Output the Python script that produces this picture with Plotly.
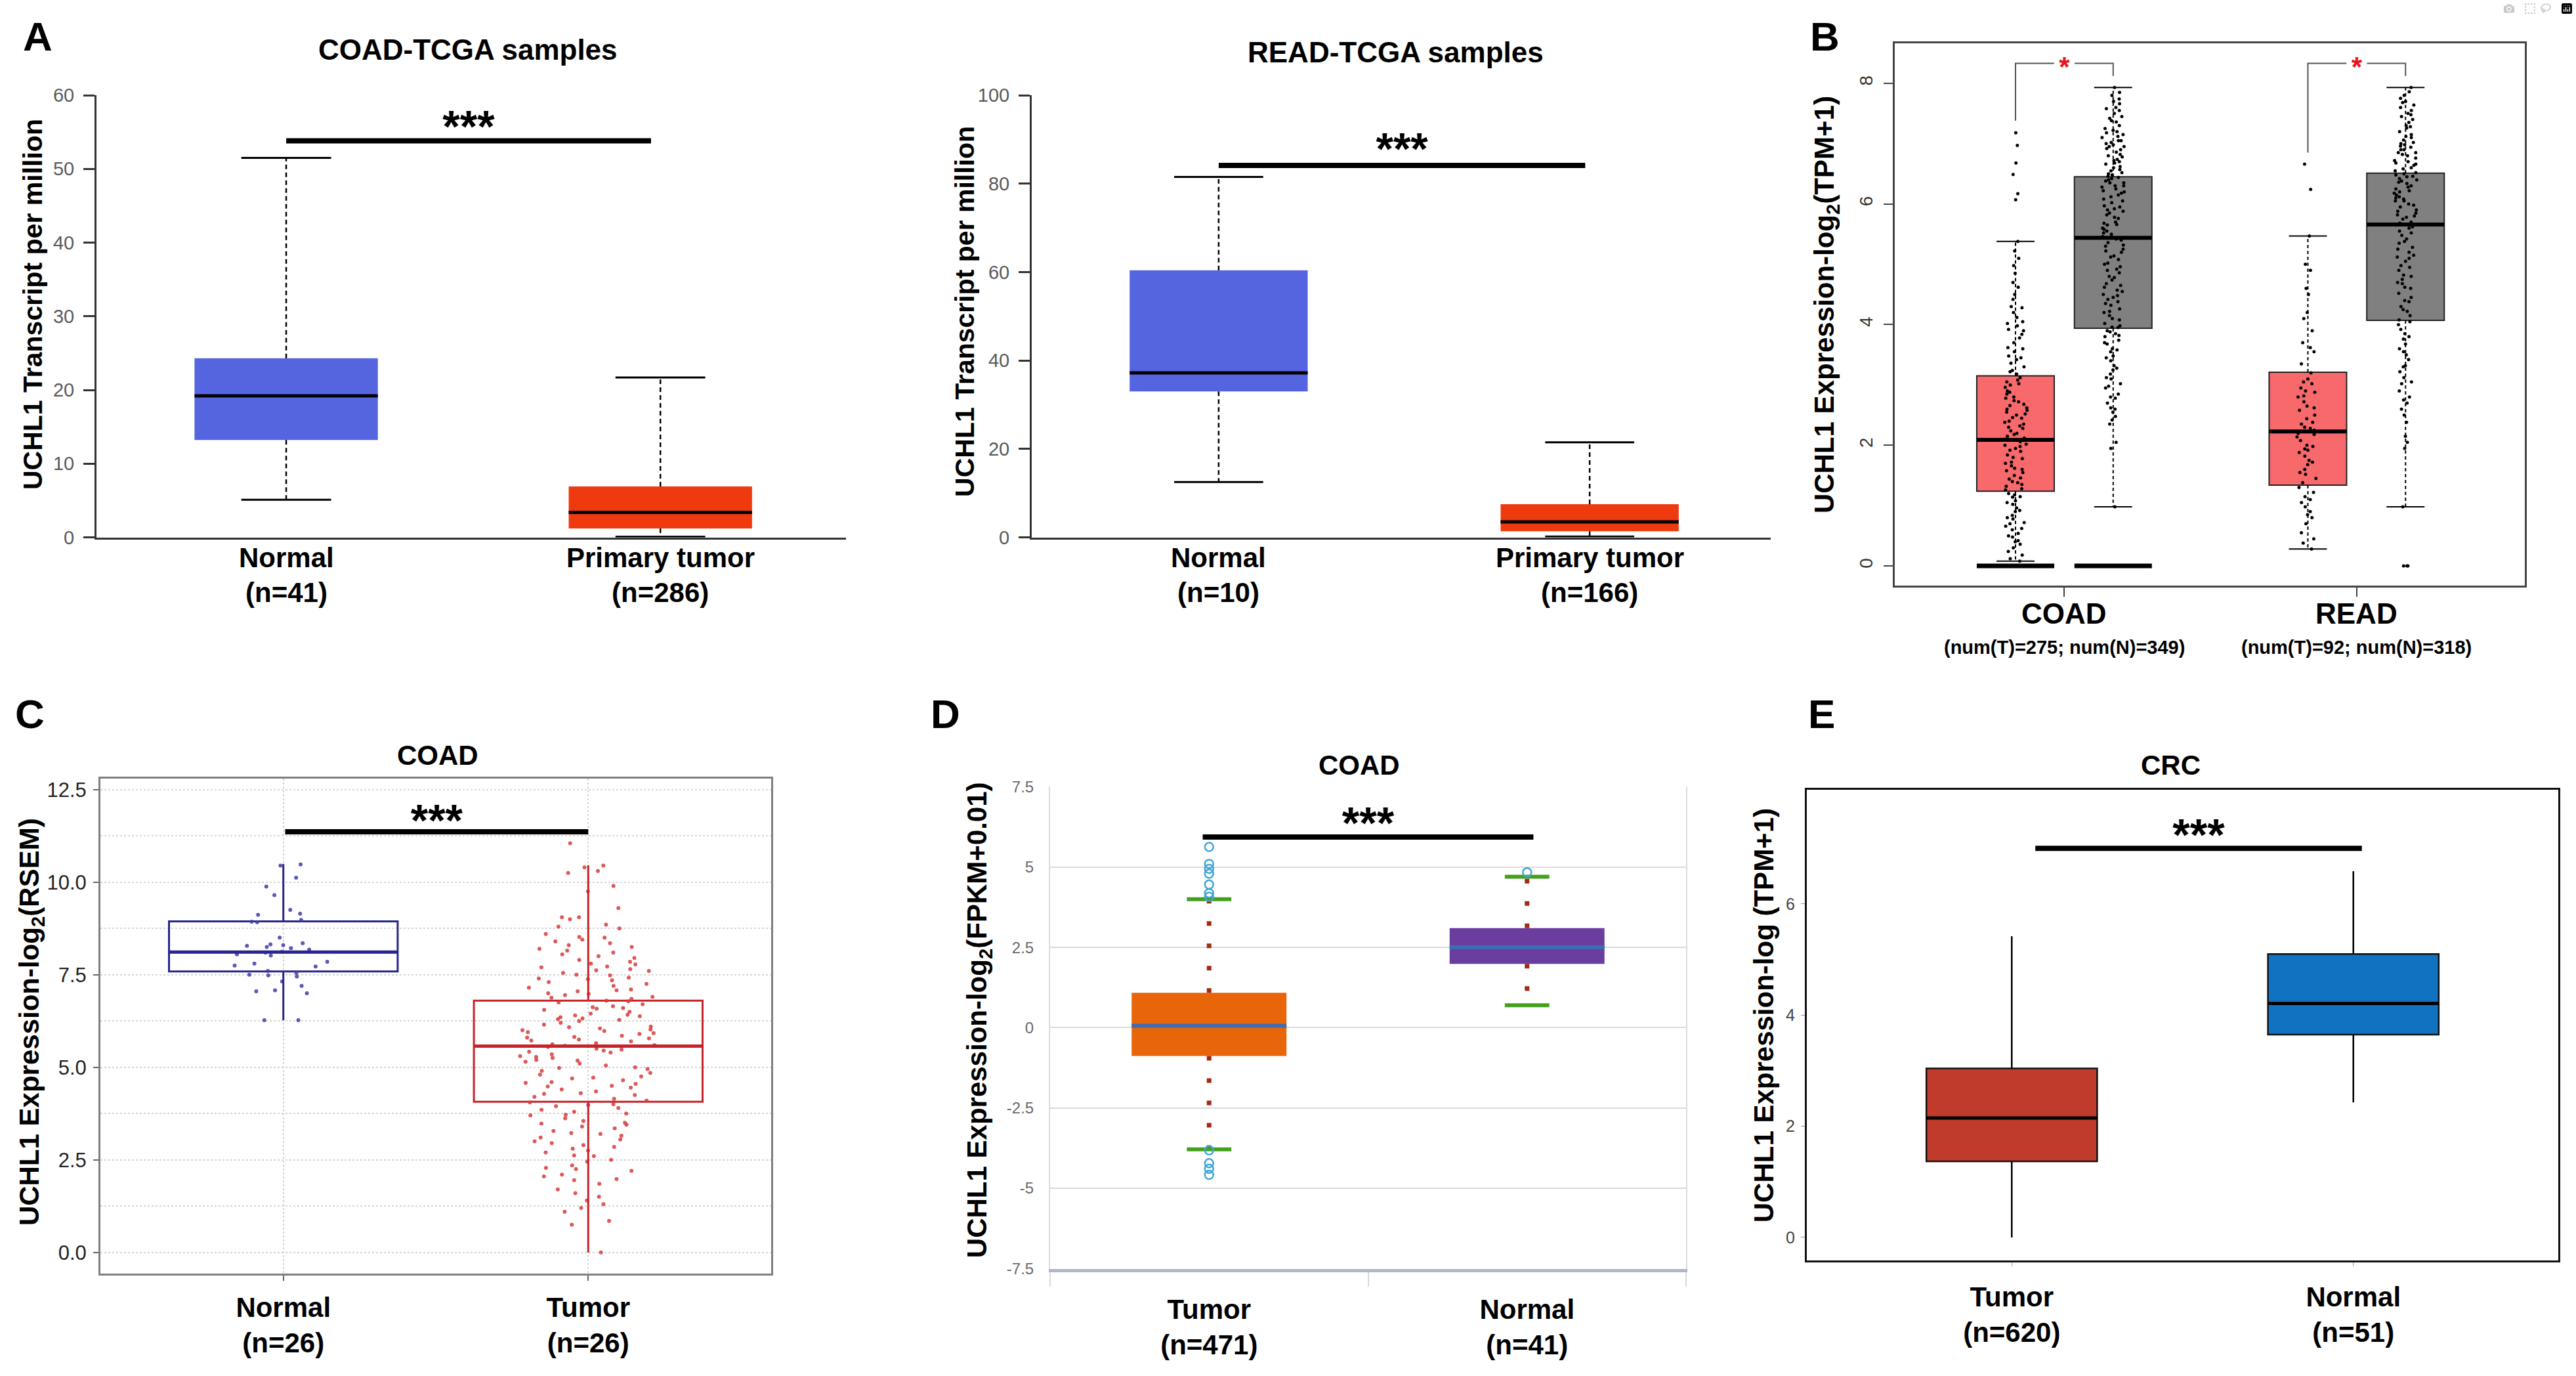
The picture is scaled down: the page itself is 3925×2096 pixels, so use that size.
import plotly.graph_objects as go

W, H = 3925, 2096
FONT = "Liberation Sans, Arial, Helvetica, sans-serif"

# ---------------- A: COAD / READ TCGA, transcript per million ----------------
a_groups = ["Normal", "Primary tumor"]
a1_counts = ["(n=41)", "(n=286)"]
a1_low = [5.1, 0.1]
a1_q1 = [13.2, 1.2]
a1_med = [19.2, 3.4]
a1_q3 = [24.3, 6.9]
a1_high = [51.5, 21.7]
a1_sig = 53.8

a2_counts = ["(n=10)", "(n=166)"]
a2_low = [12.5, 0.2]
a2_q1 = [33.0, 1.4]
a2_med = [37.2, 3.5]
a2_q3 = [60.4, 7.5]
a2_high = [81.5, 21.5]
a2_sig = 84.1

# ---------------- B: GEPIA, tumor (red) vs normal (grey) ----------------
b_cancers = ["COAD", "READ"]
b_counts = ["(num(T)=275; num(N)=349)", "(num(T)=92; num(N)=318)"]
b_t_low = [0.08, 0.28]
b_t_q1 = [1.24, 1.34]
b_t_med = [2.09, 2.23]
b_t_q3 = [3.15, 3.21]
b_t_high = [5.38, 5.47]
b_n_low = [0.98, 0.98]
b_n_q1 = [3.94, 4.07]
b_n_med = [5.44, 5.66]
b_n_q3 = [6.45, 6.51]
b_n_high = [7.93, 7.93]
b_zero_band = [True, False]          # solid band of samples at 0 (COAD only)
b_bracket_t = [7.38, 6.85]
b_bracket_n = [8.12, 8.12]
b_bracket_top = 8.33

coad_t_pts = [7.18, 6.97, 6.68, 6.49, 6.17, 6.07, 5.38, 5.22, 5.1, 4.98, 4.85, 4.7, 4.62, 4.5,
              4.42, 4.3, 4.2, 4.12, 4.05, 3.98, 3.9, 3.84, 3.78, 3.7, 3.62, 3.55, 3.48, 3.42,
              3.36, 3.3, 3.24, 3.18, 3.12, 3.08, 3.02, 2.96, 2.9, 2.85, 2.8, 2.74, 2.68, 2.62,
              2.58, 2.52, 2.46, 2.4, 2.35, 2.3, 2.24, 2.18, 2.12, 2.06, 2.0, 1.95, 1.9, 1.84,
              1.78, 1.72, 1.66, 1.6, 1.55, 1.5, 1.44, 1.38, 1.32, 1.26, 1.2, 1.14, 1.08, 1.02,
              0.96, 0.9, 0.84, 0.78, 0.72, 0.66, 0.6, 0.54, 0.48, 0.42, 0.36, 0.3, 0.24, 0.18,
              0.12, 0.08, 2.55, 2.45, 2.15, 1.98, 1.62, 1.35, 2.72, 3.05, 1.15, 0.7,
              3.92, 3.6, 3.45, 3.22, 3.0, 2.88, 2.78, 2.66, 2.5, 2.38, 2.28, 2.2, 2.1, 2.02,
              1.92, 1.8, 1.7, 1.58, 1.46, 1.4, 1.28, 1.18, 1.05, 0.92, 0.8, 0.62, 0.5, 0.4,
              4.02, 4.28, 2.6, 2.32]
coad_n_pts = [7.93, 7.85, 7.8, 7.74, 7.7, 7.66, 7.6, 7.55, 7.5, 7.45, 7.42, 7.36, 7.3, 7.25,
              7.22, 7.18, 7.12, 7.1, 7.05, 7.02, 6.98, 6.95, 6.9, 6.86, 6.82, 6.78, 6.74, 6.7,
              6.66, 6.6, 6.57, 6.52, 6.48, 6.44, 6.4, 6.35, 6.3, 6.28, 6.22, 6.18, 6.12, 6.08,
              6.02, 5.97, 5.92, 5.88, 5.82, 5.76, 5.7, 5.66, 5.6, 5.55, 5.5, 5.46, 5.42, 5.36,
              5.3, 5.25, 5.2, 5.14, 5.08, 5.02, 4.96, 4.9, 4.86, 4.8, 4.74, 4.68, 4.62, 4.57,
              4.5, 4.45, 4.38, 4.32, 4.26, 4.2, 4.15, 4.08, 4.02, 3.96, 3.9, 3.85, 3.8, 3.74,
              3.68, 3.6, 3.55, 3.48, 3.4, 3.32, 3.25, 3.18, 3.1, 3.02, 2.95, 2.85, 2.78, 2.7,
              2.62, 2.55, 2.48, 2.42, 2.35, 2.05, 1.95, 0.98, 7.05, 6.95, 6.5, 6.42, 6.3, 5.9,
              5.45, 4.55, 3.95, 3.88, 7.2, 6.62,
              7.58, 7.38, 7.15, 6.92, 6.8, 6.68, 6.55, 6.46, 6.38, 6.25, 6.15, 6.05, 5.95, 5.85,
              5.78, 5.68, 5.58, 5.52, 5.4, 5.32, 5.22, 5.12, 5.0, 4.92, 4.78, 4.65, 4.48, 4.35,
              4.22, 4.1, 3.98, 3.82, 3.7, 3.58, 3.45, 3.28, 3.12, 2.98, 2.8, 2.6, 6.35, 6.72,
              7.0, 6.2, 5.65, 4.42]
read_t_pts = [6.66, 6.24, 5.47, 5.0, 4.9, 4.6, 4.5, 4.2, 4.1, 3.9, 3.7, 3.62, 3.55, 3.35, 3.2,
              3.1, 3.02, 2.95, 2.88, 2.8, 2.72, 2.65, 2.58, 2.5, 2.44, 2.38, 2.3, 2.25, 2.2,
              2.14, 2.08, 2.0, 1.94, 1.88, 1.82, 1.75, 1.68, 1.6, 1.52, 1.45, 1.38, 1.3, 1.22,
              1.15, 1.05, 0.98, 0.9, 0.8, 0.7, 0.55, 0.45, 0.38, 0.28, 2.9, 2.35, 1.92,
              3.05, 2.82, 2.62, 2.28, 2.18, 1.98, 1.72, 1.55, 1.1, 0.85]
read_n_pts = [7.93, 7.86, 7.8, 7.75, 7.7, 7.64, 7.6, 7.55, 7.5, 7.45, 7.4, 7.35, 7.3, 7.26,
              7.2, 7.15, 7.1, 7.06, 7.02, 6.98, 6.94, 6.9, 6.85, 6.8, 6.76, 6.72, 6.68, 6.64,
              6.6, 6.55, 6.5, 6.46, 6.42, 6.38, 6.34, 6.3, 6.25, 6.2, 6.15, 6.1, 6.05, 6.0,
              5.95, 5.9, 5.85, 5.8, 5.75, 5.7, 5.65, 5.6, 5.55, 5.48, 5.42, 5.35, 5.28, 5.2,
              5.12, 5.05, 4.98, 4.9, 4.82, 4.75, 4.68, 4.6, 4.52, 4.45, 4.38, 4.3, 4.22, 4.15,
              4.08, 4.0, 3.92, 3.85, 3.76, 3.68, 3.6, 3.5, 3.42, 3.32, 3.22, 3.12, 3.02, 2.9,
              2.8, 2.7, 2.6, 2.5, 2.38, 2.15, 2.05, 1.95, 0.98, 0.0, 0.0, 0.0, 7.0, 6.85,
              6.7, 6.45, 6.4, 6.22, 6.05, 5.62, 5.1, 4.7,
              7.68, 7.48, 7.28, 7.12, 6.96, 6.82, 6.66, 6.58, 6.48, 6.36, 6.28, 6.18, 6.08, 5.98,
              5.88, 5.78, 5.68, 5.52, 5.38, 5.25, 5.15, 4.95, 4.8, 4.62, 4.4, 4.25, 4.05, 3.8,
              3.55, 3.3, 3.05, 2.75, 6.9, 6.52, 6.12, 5.82]

# ---------------- C: COAD, log2(RSEM) ----------------
c_groups = ["Normal", "Tumor"]
c_counts = ["(n=26)", "(n=26)"]
c_low = [6.27, 0.0]
c_q1 = [7.59, 4.07]
c_med = [8.11, 5.57]
c_q3 = [8.94, 6.80]
c_high = [10.49, 10.46]
c_sig = 11.36
c_normal_pts = [10.48, 10.45, 10.12, 9.88, 9.65, 9.25, 9.15, 9.12, 8.98, 8.93, 8.92, 8.5, 8.35,
                8.32, 8.3, 8.28, 8.25, 8.22, 8.18, 8.12, 8.1, 8.05, 8.02, 7.85, 7.8, 7.75, 7.72,
                7.6, 7.55, 7.5, 7.48, 7.45, 7.32, 7.2, 7.08, 7.05, 7.0, 6.27, 6.27]
c_tumor_pts = [11.05, 10.45, 10.4, 10.3, 10.25, 9.9, 9.75, 9.3, 9.05, 9.05, 9.0, 8.85, 8.8, 8.75,
               8.6, 8.5, 8.45, 8.4, 8.35, 8.3, 8.25, 8.2, 8.15, 8.1, 8.05, 7.95, 7.9, 7.85, 7.8,
               7.78, 7.72, 7.7, 7.65, 7.6, 7.55, 7.5, 7.48, 7.42, 7.4, 7.35, 7.3, 7.25, 7.2,
               7.15, 7.1, 7.05, 7.0, 6.98, 6.95, 6.9, 6.85, 6.8, 6.78, 6.75, 6.7, 6.65, 6.6,
               6.58, 6.55, 6.5, 6.45, 6.42, 6.4, 6.38, 6.35, 6.3, 6.28, 6.25, 6.2, 6.15, 6.1,
               6.05, 6.02, 6.0, 5.95, 5.92, 5.9, 5.85, 5.82, 5.8, 5.75, 5.72, 5.7, 5.65, 5.6,
               5.58, 5.55, 5.5, 5.48, 5.45, 5.4, 5.35, 5.3, 5.28, 5.25, 5.2, 5.15, 5.1, 5.05,
               5.0, 4.95, 4.9, 4.85, 4.8, 4.75, 4.7, 4.65, 4.6, 4.58, 4.55, 4.5, 4.45, 4.4,
               4.35, 4.3, 4.25, 4.2, 4.15, 4.1, 4.05, 4.0, 3.95, 3.9, 3.85, 3.8, 3.75, 3.7,
               3.62, 3.55, 3.5, 3.45, 3.4, 3.35, 3.28, 3.2, 3.15, 3.1, 3.05, 3.0, 2.95, 2.85,
               2.8, 2.75, 2.7, 2.6, 2.5, 2.45, 2.35, 2.25, 2.2, 2.1, 2.05, 1.95, 1.85, 1.7,
               1.6, 1.5, 1.4, 1.3, 1.2, 1.1, 0.85, 0.75, 0.0,
               6.62, 6.32, 6.08, 5.98, 5.78, 5.62, 5.42, 5.18, 4.98, 4.72, 4.48, 4.28, 3.98,
               3.72, 3.48, 3.22, 2.9, 2.62, 2.28, 1.98, 7.62, 7.38, 7.08, 6.88, 8.52, 8.0]

# ---------------- D: COAD, log2(FPKM+0.01) ----------------
d_groups = ["Tumor", "Normal"]
d_counts = ["(n=471)", "(n=41)"]
d_low = [-3.79, 0.70]
d_q1 = [-0.88, 1.99]
d_med = [0.06, 2.51]
d_q3 = [1.09, 3.10]
d_high = [4.0, 4.70]
d_out_tumor = [5.63, 5.10, 4.95, 4.80, 4.46, 4.19, 4.08, -3.82, -4.22, -4.39, -4.58]
d_out_normal = [4.84]
d_sig = 5.94

# ---------------- E: CRC, log(TPM+1) ----------------
e_groups = ["Tumor", "Normal"]
e_counts = ["(n=620)", "(n=51)"]
e_low = [0.0, 2.43]
e_q1 = [1.37, 3.65]
e_med = [2.15, 4.21]
e_q3 = [3.04, 5.10]
e_high = [5.42, 6.59]
e_sig = 7.0

fig = go.Figure()


def xd(a, b):
    return [a / W, b / W]


def yd(top, bottom):
    return [1 - bottom / H, 1 - top / H]


def add_box(ax, pos, lo, q1, med, q3, hi, width, fill, edge=None, edge_w=0,
            med_color="black", med_w=5, wh_color="black", wh_w=2, wh_dash="solid",
            cap=0, cap_color="black", cap_w=2):
    xa, ya = ax
    common = dict(xaxis=xa, yaxis=ya, showlegend=False, hoverinfo="skip")
    fig.add_trace(go.Bar(x=[pos], y=[q3 - q1], base=[q1], width=[width],
                         marker=dict(color=fill, line=dict(color=edge or fill, width=edge_w)),
                         **common))
    fig.add_trace(go.Scatter(x=[pos, pos, None, pos, pos], y=[q3, hi, None, q1, lo],
                             mode="lines", line=dict(color=wh_color, width=wh_w, dash=wh_dash),
                             **common))
    if cap:
        fig.add_trace(go.Scatter(x=[pos - cap / 2, pos + cap / 2, None, pos - cap / 2, pos + cap / 2],
                                 y=[hi, hi, None, lo, lo], mode="lines",
                                 line=dict(color=cap_color, width=cap_w), **common))
    fig.add_trace(go.Scatter(x=[pos - width / 2, pos + width / 2], y=[med, med], mode="lines",
                             line=dict(color=med_color, width=med_w), **common))


def add_points(ax, pos, vals, width, jitter, color, size):
    xa, ya = ax
    fig.add_trace(go.Box(x=[pos] * len(vals), y=vals, boxpoints="all", jitter=jitter, pointpos=0,
                         width=width, fillcolor="rgba(0,0,0,0)",
                         line=dict(width=0, color="rgba(0,0,0,0)"),
                         marker=dict(color=color, size=size),
                         xaxis=xa, yaxis=ya, showlegend=False, hoverinfo="skip"))


def add_sig(ax, x0, x1, y, ystar, lw=8, size=68):
    xa, ya = ax
    fig.add_trace(go.Scatter(x=[x0, x1], y=[y, y], mode="lines",
                             line=dict(color="black", width=lw),
                             xaxis=xa, yaxis=ya, showlegend=False, hoverinfo="skip"))
    fig.add_trace(go.Scatter(x=[(x0 + x1) / 2], y=[ystar], mode="text", text=["<b>***</b>"],
                             textfont=dict(size=size, color="black", family=FONT),
                             xaxis=xa, yaxis=ya, showlegend=False, hoverinfo="skip"))


# --- A1
a_fill = ["#5565E0", "#EF3A10"]
for i in range(2):
    add_box(("x", "y"), i + 1, a1_low[i], a1_q1[i], a1_med[i], a1_q3[i], a1_high[i], 0.49,
            a_fill[i], med_w=5, wh_w=2.5, wh_dash="7px,5px", cap=0.24, cap_w=3)
add_sig(("x", "y"), 1, 1.975, a1_sig, 55.2)

# --- A2
for i in range(2):
    add_box(("x2", "y2"), i + 1, a2_low[i], a2_q1[i], a2_med[i], a2_q3[i], a2_high[i], 0.48,
            a_fill[i], med_w=5, wh_w=2.5, wh_dash="7px,5px", cap=0.24, cap_w=3)
add_sig(("x2", "y2"), 1, 1.988, a2_sig, 86.9)

# --- B
b_off = 0.167
b_w = 0.265
for i in range(2):
    pt, pn = i + 1 - b_off, i + 1 + b_off
    add_box(("x3", "y3"), pt, b_t_low[i], b_t_q1[i], b_t_med[i], b_t_q3[i], b_t_high[i], b_w,
            "#F8696B", edge="#222222", edge_w=2, med_w=6, wh_w=2, wh_dash="5px,4px",
            cap=0.13, cap_w=2)
    add_box(("x3", "y3"), pn, b_n_low[i], b_n_q1[i], b_n_med[i], b_n_q3[i], b_n_high[i], b_w,
            "#808080", edge="#222222", edge_w=2, med_w=6, wh_w=2, wh_dash="5px,4px",
            cap=0.13, cap_w=2)
    if b_zero_band[i]:
        fig.add_trace(go.Scatter(x=[pt - b_w / 2, pt + b_w / 2, None, pn - b_w / 2, pn + b_w / 2],
                                 y=[0, 0, None, 0, 0], mode="lines",
                                 line=dict(color="black", width=7), xaxis="x3", yaxis="y3",
                                 showlegend=False, hoverinfo="skip"))
    # bracket with red star
    g = 0.035
    fig.add_trace(go.Scatter(x=[pt, pt, i + 1 - g, None, i + 1 + g, pn, pn],
                             y=[b_bracket_t[i], b_bracket_top, b_bracket_top, None,
                                b_bracket_top, b_bracket_top, b_bracket_n[i]],
                             mode="lines", line=dict(color="#555555", width=2),
                             xaxis="x3", yaxis="y3", showlegend=False, hoverinfo="skip"))
    fig.add_trace(go.Scatter(x=[i + 1], y=[b_bracket_top - 0.1], mode="text", text=["<b>*</b>"],
                             textfont=dict(size=42, color="#E8141B", family=FONT),
                             xaxis="x3", yaxis="y3", showlegend=False, hoverinfo="skip"))
add_points(("x3", "y3"), 1 - b_off, coad_t_pts, b_w, 0.3, "black", 5)
add_points(("x3", "y3"), 1 + b_off, coad_n_pts, b_w, 0.3, "black", 5)
add_points(("x3", "y3"), 2 - b_off, read_t_pts, b_w, 0.3, "black", 5)
add_points(("x3", "y3"), 2 + b_off, read_n_pts, b_w, 0.3, "black", 5)

# --- C
c_col = ["#26268E", "#C8232A"]
add_points(("x4", "y4"), 1, c_normal_pts, 0.75, 0.6, "rgba(60,60,170,0.85)", 6)
add_points(("x4", "y4"), 2, c_tumor_pts, 0.75, 0.6, "rgba(215,60,60,0.85)", 6)
for i in range(2):
    add_box(("x4", "y4"), i + 1, c_low[i], c_q1[i], c_med[i], c_q3[i], c_high[i], 0.75,
            "rgba(0,0,0,0)", edge=c_col[i], edge_w=3, med_color=c_col[i], med_w=5,
            wh_color=c_col[i], wh_w=3)
add_sig(("x4", "y4"), 1.006, 2.0, c_sig, 11.55)

# --- D
d_fill = ["#E8650A", "#6A3D9E"]
for i in range(2):
    add_box(("x5", "y5"), i + 0.5, d_low[i], d_q1[i], d_med[i], d_q3[i], d_high[i], 0.487,
            d_fill[i], med_color="#3D6DB2", med_w=6, wh_color="#A3290F", wh_w=7,
            wh_dash="7px,27px", cap=0.14, cap_color="#43A01F", cap_w=6)
fig.add_trace(go.Scatter(x=[0.5] * len(d_out_tumor) + [1.5] * len(d_out_normal),
                         y=d_out_tumor + d_out_normal, mode="markers",
                         marker=dict(symbol="circle-open", size=13, color="#3FA6D8",
                                     line=dict(width=2.5)),
                         xaxis="x5", yaxis="y5", showlegend=False, hoverinfo="skip"))
add_sig(("x5", "y5"), 0.48, 1.52, d_sig, 6.25)

# --- E
e_fill = ["#C03B2B", "#1272C2"]
for i in range(2):
    add_box(("x6", "y6"), i + 1, e_low[i], e_q1[i], e_med[i], e_q3[i], e_high[i], 0.5,
            e_fill[i], edge="#111111", edge_w=2.5, med_w=5, wh_w=2.5)
add_sig(("x6", "y6"), 1.069, 2.025, e_sig, 7.17)


def ticklabels(groups, counts):
    return [f"<b>{g}</b><br><b>{n}</b>" for g, n in zip(groups, counts)]


base = dict(showgrid=False, zeroline=False, fixedrange=True)
xlab = dict(family=FONT, size=42, color="black")

layout = dict(
    width=W, height=H, margin=dict(l=0, r=0, t=0, b=0),
    paper_bgcolor="white", plot_bgcolor="white",
    barmode="overlay", boxmode="overlay", showlegend=False,
    font=dict(family=FONT, color="black"),
    # A1
    xaxis=dict(base, domain=xd(147, 1289), range=[0.493, 2.496], anchor="y",
               showline=True, linecolor="#333333", linewidth=3, ticks="",
               tickvals=[1, 2], showticklabels=False),
    yaxis=dict(base, domain=yd(131, 815), range=[0, 60], anchor="x",
               showline=True, linecolor="#333333", linewidth=3, ticks="outside",
               ticklen=17, tickwidth=3, tickcolor="#333333", tickvals=list(range(0, 61, 10)),
               tickfont=dict(family=FONT, size=29, color="#5A5A5A"), ticklabelstandoff=8),
    # A2
    xaxis2=dict(base, domain=xd(1572, 2698), range=[0.496, 2.488], anchor="y2",
                showline=True, linecolor="#333333", linewidth=3, ticks="",
                tickvals=[1, 2], showticklabels=False),
    yaxis2=dict(base, domain=yd(131, 815), range=[0, 100], anchor="x2",
                showline=True, linecolor="#333333", linewidth=3, ticks="outside",
                ticklen=17, tickwidth=3, tickcolor="#333333", tickvals=list(range(0, 101, 20)),
                tickfont=dict(family=FONT, size=29, color="#5A5A5A"), ticklabelstandoff=8),
    # B
    xaxis3=dict(base, domain=xd(2887, 3847), range=[0.42, 2.575], anchor="y3",
                showline=True, mirror=True, linecolor="#444444", linewidth=3,
                ticks="outside", ticklen=14, tickwidth=2, tickcolor="#444444",
                tickvals=[1, 2], showticklabels=False),
    yaxis3=dict(base, domain=yd(51, 890), range=[-0.33, 8.66], anchor="x3",
                showline=True, mirror=True, linecolor="#444444", linewidth=3,
                ticks="outside", ticklen=14, tickwidth=2, tickcolor="#444444",
                tickvals=[0, 2, 4, 6, 8], tickangle=-90,
                tickfont=dict(family=FONT, size=28, color="#333333"), ticklabelstandoff=6),
    # C
    xaxis4=dict(base, domain=xd(153, 1175), range=[0.4, 2.6], anchor="y4",
                showline=True, mirror=True, linecolor="#7F7F7F", linewidth=3,
                ticks="outside", ticklen=8, tickwidth=2, tickcolor="#666666",
                showgrid=True, gridcolor="#D5D5D5", griddash="dot", gridwidth=2,
                tickvals=[1, 2], ticktext=ticklabels(c_groups, c_counts), tickfont=xlab,
                ticklabelstandoff=4),
    yaxis4=dict(base, domain=yd(1188, 1954), range=[-0.576, 12.8], anchor="x4",
                showline=True, mirror=True, linecolor="#7F7F7F", linewidth=3,
                ticks="outside", ticklen=8, tickwidth=2, tickcolor="#666666",
                showgrid=True, gridcolor="#D5D5D5", griddash="dot", gridwidth=2,
                tickvals=[0, 2.5, 5, 7.5, 10, 12.5], tickformat=".1f",
                minor=dict(tickvals=[1.25, 3.75, 6.25, 8.75, 11.25], showgrid=True,
                           gridcolor="#D5D5D5", griddash="dot", gridwidth=2, ticks=""),
                tickfont=dict(family=FONT, size=31, color="#222222"), ticklabelstandoff=4),
    # D
    xaxis5=dict(base, domain=xd(1600, 2569), range=[0, 2], anchor="y5",
                showline=True, linecolor="#AEB7C8", linewidth=5, ticks="",
                tickvals=[0.5, 1.5], ticktext=ticklabels(d_groups, d_counts), tickfont=xlab,
                minor=dict(tickvals=[0, 1, 2], ticks="outside", ticklen=22, tickwidth=2,
                           tickcolor="#D8D8D8"),
                ticklabelstandoff=20),
    yaxis5=dict(base, domain=yd(1200, 1947), range=[-7.52, 7.52], anchor="x5",
                showline=True, mirror=True, linecolor="#DCDCDC", linewidth=2, ticks="",
                showgrid=True, gridcolor="#DADADA", gridwidth=2,
                tickvals=[-7.5, -5, -2.5, 0, 2.5, 5, 7.5],
                ticktext=["-7.5", "-5", "-2.5", "0", "2.5", "5", "7.5"],
                tickfont=dict(family=FONT, size=24, color="#6A6A6A"), ticklabelstandoff=18),
    # E
    xaxis6=dict(base, domain=xd(2753, 3898), range=[0.4, 2.6], anchor="y6",
                showline=True, mirror=True, linecolor="#111111", linewidth=3,
                ticks="outside", ticklen=6, tickwidth=1, tickcolor="#999999",
                tickvals=[1, 2], ticktext=ticklabels(e_groups, e_counts), tickfont=xlab,
                ticklabelstandoff=10),
    yaxis6=dict(base, domain=yd(1205, 1934), range=[-0.42, 8.06], anchor="x6",
                showline=True, mirror=True, linecolor="#111111", linewidth=3,
                ticks="outside", ticklen=6, tickwidth=1, tickcolor="#999999",
                tickvals=[0, 2, 4, 6],
                tickfont=dict(family=FONT, size=25, color="#444444"), ticklabelstandoff=4),
)
fig.update_layout(layout)


def note(text, x, y, size, angle=0, color="black", xref="paper"):
    fig.add_annotation(text=text, x=x if xref != "paper" else x / W, y=1 - y / H,
                       xref=xref, yref="paper", showarrow=False, textangle=angle,
                       xanchor="center", yanchor="middle",
                       font=dict(family=FONT, size=size, color=color))


# panel letters
for letter, lx, ly in [("A", 57, 40), ("B", 2780, 40), ("C", 45, 1088), ("D", 1440, 1088),
                       ("E", 2775, 1088)]:
    note(f"<b>{letter}</b>", lx, ly, 62)

# panel titles
note("<b>COAD-TCGA samples</b>", 713, 60, 44)
note("<b>READ-TCGA samples</b>", 2126, 64, 44)
note("<b>COAD</b>", 667, 1152, 42)
note("<b>COAD</b>", 2071, 1167, 42)
note("<b>CRC</b>", 3307, 1167, 42)

# y-axis titles
note("<b>UCHL1 Transcript per million</b>", 50, 455, 41, angle=-90)
note("<b>UCHL1 Transcript per million</b>", 1470, 466, 41, angle=-90)
note("<b>UCHL1 Expression-log<sub>2</sub>(TPM+1)</b>", 2782, 455, 42, angle=-90)
note("<b>UCHL1 Expression-log<sub>2</sub>(RSEM)</b>", 47, 1565, 42, angle=-90)
note("<b>UCHL1 Expression-log<sub>2</sub>(FPKM+0.01)</b>", 1491, 1562, 42, angle=-90)
note("<b>UCHL1 Expression-log (TPM+1)</b>", 2687, 1555, 42, angle=-90)

# category labels under panel A (two lines each)
for xa, counts in [("x", a1_counts), ("x2", a2_counts)]:
    for i in range(2):
        note(f"<b>{a_groups[i]}</b>", i + 1, 846, 42, xref=xa)
        note(f"<b>{counts[i]}</b>", i + 1, 900, 42, xref=xa)

# category labels and sample counts under panel B
for i in range(2):
    note(f"<b>{b_cancers[i]}</b>", i + 1, 933, 44, xref="x3")
    note(f"<b>{b_counts[i]}</b>", i + 1, 985, 29, xref="x3")

fig.write_html("out.html",
               post_script="document.body.style.margin='0';document.body.style.overflow='hidden';")
